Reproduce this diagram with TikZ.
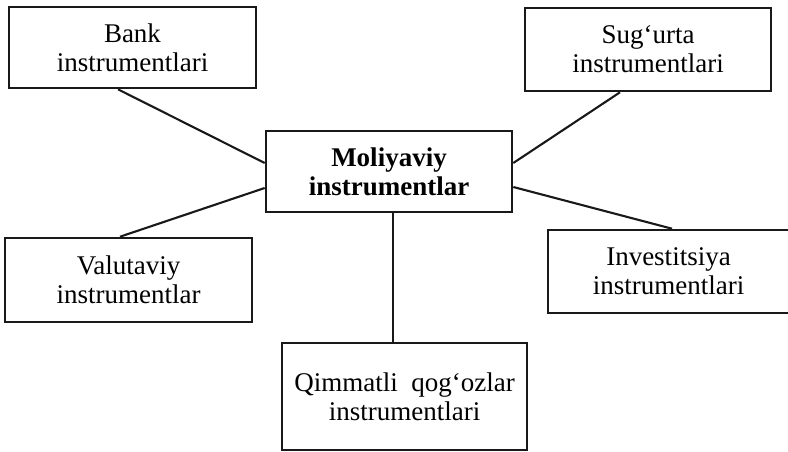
\documentclass[tikz,border=0pt]{standalone}
\usepackage{fontspec}
\setmainfont{Liberation Serif}
\begin{document}
\begin{tikzpicture}[x=1pt,y=-1pt]
    \tikzstyle{box}=[draw=black!90, line width=2.6pt, align=center, inner sep=2pt,
      font=\fontsize{27}{29}\selectfont]
    \tikzstyle{link}=[draw=black!90, line width=2.1pt]
    \useasboundingbox (0,0) rectangle (788,451);
    \begin{scope}
    \clip (0,0) rectangle (788,451);
    \node[box, minimum width=246pt, minimum height=81pt] (moliya) at (389,171.5){\textbf{Moliyaviy}\\\textbf{instrumentlar}};
    \node[box, minimum width=247pt, minimum height=81pt] (bank) at (132.5,47.5){Bank\\instrumentlari};
    \node[box, minimum width=246pt, minimum height=83pt] (sugurta) at (648,49.5){Sug‘urta\\instrumentlari};
    \node[box, minimum width=247pt, minimum height=84pt] (valuta) at (128.5,280){Valutaviy\\instrumentlar};
    \node[box, minimum width=241pt, minimum height=83pt] (invest) at (668.5,271.5){Investitsiya\\instrumentlari};
    \node[box, minimum width=245pt, minimum height=107pt] (qimmat) at (404.5,396.5){Qimmatli~~qog‘ozlar\\instrumentlari};
    \end{scope}
    %links
    \draw[link] ([xshift=-14.5pt]bank.south) -- ([yshift=8.5pt]moliya.west);
    \draw[link] ([xshift=-8.5pt]valuta.north) -- ([yshift=-16.5pt]moliya.west);
    \draw[link] ([xshift=-28pt]sugurta.south) -- ([yshift=8.5pt]moliya.east);
    \draw[link] ([xshift=3.5pt]invest.north) -- ([yshift=-15.5pt]moliya.east);
    \draw[link] ([xshift=4pt]moliya.south) -- ([xshift=4pt]moliya.south |- qimmat.north);
  \end{tikzpicture}
\end{document}
